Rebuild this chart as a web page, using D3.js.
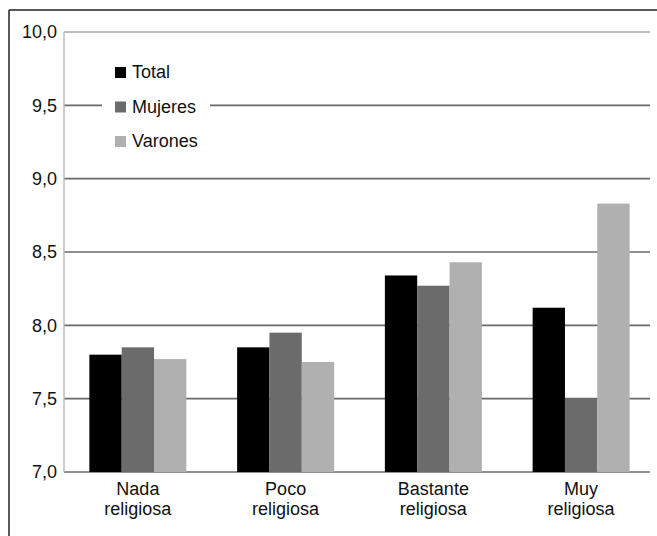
<!DOCTYPE html>
<html>
<head>
<meta charset="utf-8">
<script src="https://cdn.jsdelivr.net/npm/d3@7"></script>
<style>
  html, body { margin: 0; padding: 0; background: #fff; }
  svg { display: block; font-family: "Liberation Sans", Arial, Helvetica, sans-serif; }
</style>
</head>
<body>
<svg id="chart" width="657" height="536"></svg>
<script>
// Categories (two-line labels) and the three series
const categories = ["Nada religiosa", "Poco religiosa", "Bastante religiosa", "Muy religiosa"];
const categoryLines = [["Nada", "religiosa"], ["Poco", "religiosa"], ["Bastante", "religiosa"], ["Muy", "religiosa"]];
const seriesNames = ["Total", "Mujeres", "Varones"];
const totalValues = [7.80, 7.85, 8.34, 8.12];
const mujeresValues = [7.85, 7.95, 8.27, 7.50];
const varonesValues = [7.77, 7.75, 8.43, 8.83];
const yTicks = [7.0, 7.5, 8.0, 8.5, 9.0, 9.5, 10.0];
const yTickLabels = ["7,0", "7,5", "8,0", "8,5", "9,0", "9,5", "10,0"];
const seriesColors = ["#000000", "#6b6b6b", "#b0b0b0"];

const seriesValues = [totalValues, mujeresValues, varonesValues];

const svg = d3.select("#chart");
const plot = { left: 64, right: 650, top: 32, bottom: 472 };

const y = d3.scaleLinear().domain([7, 10]).range([plot.bottom, plot.top]);
const x0 = d3.scaleBand().domain(categories).range([plot.left, 655]).paddingInner(0).paddingOuter(0);
const groupWidth = 97;
const x1 = d3.scaleBand().domain(seriesNames).range([0, groupWidth]).padding(0);

// Outer frame (left and top edges)
svg.append("line").attr("x1", 9).attr("x2", 9).attr("y1", 10).attr("y2", 536)
  .attr("stroke", "#222").attr("stroke-width", 1.5);
svg.append("line").attr("x1", 9).attr("x2", 657).attr("y1", 10).attr("y2", 10)
  .attr("stroke", "#222").attr("stroke-width", 1.5);

// Horizontal gridlines
svg.append("g").selectAll("line").data(yTicks).join("line")
  .attr("x1", plot.left).attr("x2", plot.right)
  .attr("y1", d => y(d)).attr("y2", d => y(d))
  .attr("stroke", d => d === 10 ? "#bdbdbd" : "#6a6a6a")
  .attr("stroke-width", d => d === 10 ? 2 : 1.6);

// Left axis line
svg.append("line").attr("x1", plot.left).attr("x2", plot.left)
  .attr("y1", plot.top).attr("y2", plot.bottom)
  .attr("stroke", "#bdbdbd").attr("stroke-width", 1.5);

// Y tick labels
svg.append("g").selectAll("text").data(yTicks).join("text")
  .attr("x", 57).attr("y", d => y(d)).attr("dy", "0.35em")
  .attr("text-anchor", "end").attr("font-size", 18).attr("fill", "#111")
  .text((d, i) => yTickLabels[i]);

// Bars
const groups = svg.append("g").selectAll("g").data(categories).join("g")
  .attr("transform", d => `translate(${x0(d) + (x0.bandwidth() - groupWidth) / 2},0)`);
groups.selectAll("rect")
  .data((c, ci) => seriesNames.map((s, si) => ({ s, si, v: seriesValues[si][ci] })))
  .join("rect")
  .attr("x", d => x1(d.s))
  .attr("width", x1.bandwidth())
  .attr("y", d => y(d.v))
  .attr("height", d => y(7) - y(d.v))
  .attr("fill", d => seriesColors[d.si]);

// Category labels
svg.append("g").selectAll("text").data(categories).join("text")
  .attr("x", d => x0(d) + x0.bandwidth() / 2)
  .attr("y", 495)
  .attr("text-anchor", "middle").attr("font-size", 18).attr("fill", "#111")
  .selectAll("tspan").data((d, i) => categoryLines[i]).join("tspan")
  .attr("x", function () { return d3.select(this.parentNode).attr("x"); })
  .attr("dy", (d, i) => i === 0 ? 0 : 20)
  .text(d => d);

// Legend with white backing over the gridline
const legend = svg.append("g");
legend.append("rect").attr("x", 102).attr("y", 54).attr("width", 108).attr("height", 104).attr("fill", "#fff");
const items = legend.selectAll("g").data(seriesNames).join("g")
  .attr("transform", (d, i) => `translate(115,${78 + i * 34.5})`);
items.append("rect").attr("x", 0).attr("y", -11).attr("width", 11).attr("height", 11)
  .attr("fill", (d, i) => seriesColors[i]);
items.append("text").attr("x", 17).attr("y", 0)
  .attr("font-size", 18).attr("fill", "#111").text(d => d);
</script>
</body>
</html>
